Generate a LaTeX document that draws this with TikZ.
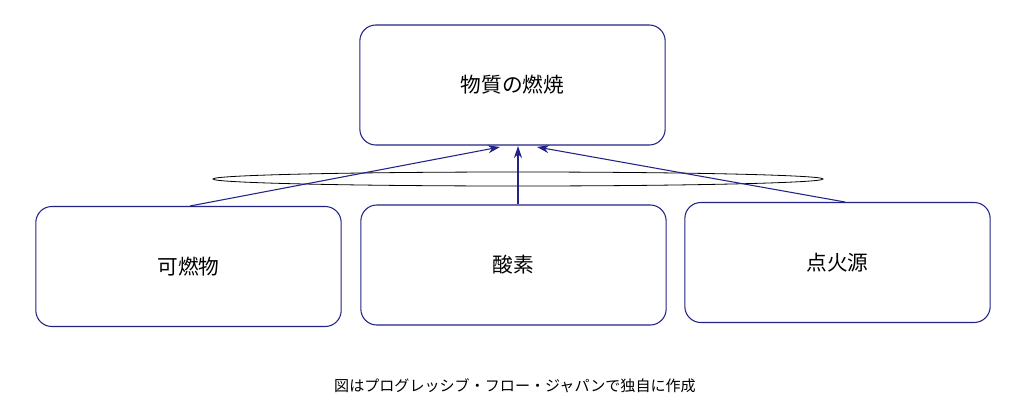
\documentclass[tikz,border=0pt]{standalone}
\usepackage{fontspec}
\newfontfamily\cjk{Noto Sans CJK JP}
\usetikzlibrary{arrows.meta}
\definecolor{boxblue}{RGB}{35,35,135}
\tikzset{
	box/.style={draw=boxblue, thick, rounded corners=12pt, minimum width=229pt,
	minimum height=90pt, inner sep=0pt, font=\cjk\fontsize{15.5}{18}\selectfont},
	link/.style={boxblue, thick, -{Stealth[length=9pt,width=6pt]}}
}
\begin{document}
\begin{tikzpicture}[x=0.75pt, y=-0.75pt]
	\useasboundingbox (0,0) rectangle (1024,414);
	% Kasten oben
	\node[box] (burn) at (512.5, 85) {物質の燃焼};
	% Kaesten unten
	\node[box] (fuel) at (188.5, 266.5) {可燃物};
	\node[box] (oxy) at (513.5, 265) {酸素};
	\node[box] (fire) at (837.5, 262.5) {点火源};
	% Ring
	\draw[black, semithick] (518, 179) ellipse [x radius=305, y radius=7];
	% Pfeile
	\coordinate (fuelTop) at (190, 206);
	\coordinate (fireTop) at (845, 202);
	\draw[link] (fuelTop) -- (500, 147);
	\draw[link] (oxy.north -| 518,0) -- (518, 146);
	\draw[link] (fireTop) -- (537, 147);
	% Quelle
	\node[font=\cjk\fontsize{11.3}{13}\selectfont] (src) at (515, 386)
	{図はプログレッシブ・フロー・ジャパンで独自に作成};
\end{tikzpicture}
\end{document}
